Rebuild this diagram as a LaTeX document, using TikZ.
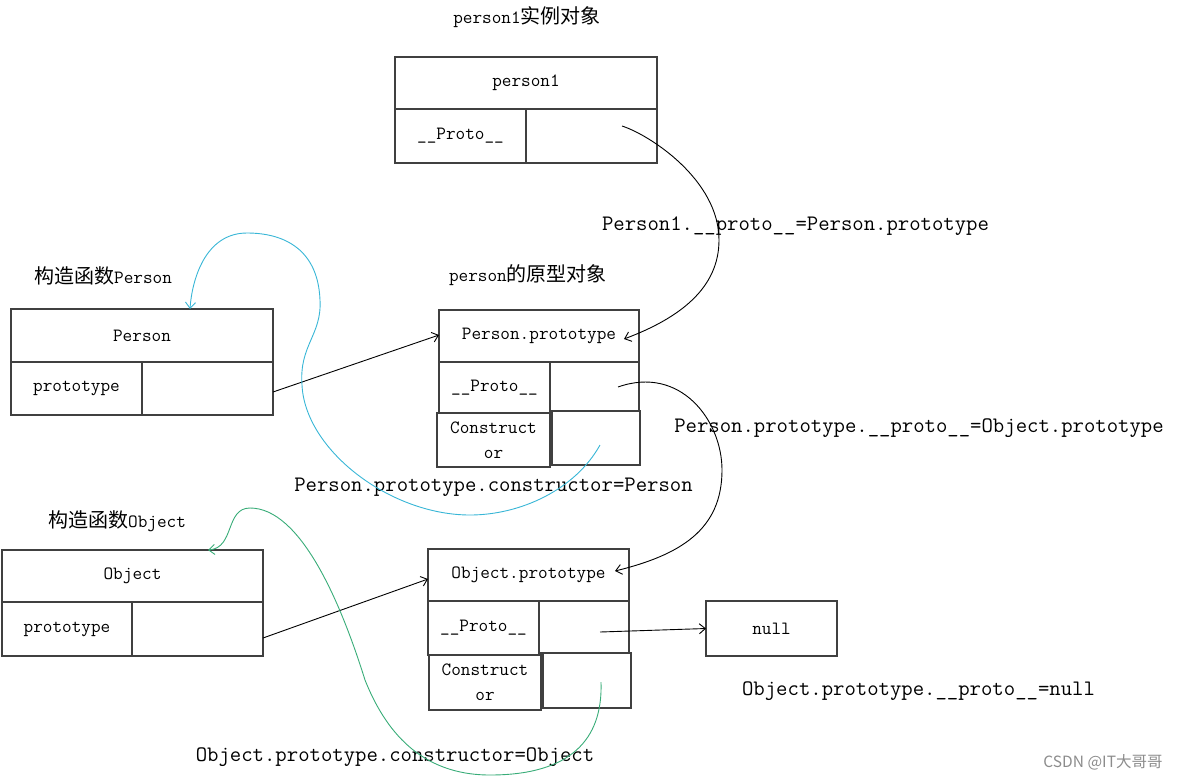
\documentclass[tikz,border=0pt]{standalone}
\usepackage{fontspec}
\newfontfamily\cjk[Scale=1.07]{Noto Sans CJK SC}
\newfontfamily\cjkwm{Noto Sans CJK SC}
\usetikzlibrary{arrows.meta}
\definecolor{cyanline}{RGB}{56,182,214}
\definecolor{greenline}{RGB}{56,172,120}
\begin{document}
\begin{tikzpicture}[x=1pt,y=-1pt,
  cell/.style={draw=black!75, line width=1.2pt, rectangle, inner sep=0pt, outer sep=0pt,
    font=\ttfamily\fontsize{18.7}{25}\selectfont, align=center},
  title/.style={font=\ttfamily\fontsize{18.7}{22}\selectfont, inner sep=0pt},
  lbl/.style={font=\ttfamily\fontsize{22.1}{26}\selectfont, inner sep=0pt},
  conn/.style={line width=0.9pt, -{Straight Barb[length=6pt,width=10pt]}},
]
\useasboundingbox (0,0) rectangle (1182,780);

% person1 instance
\node[cell, minimum width=262pt, minimum height=52pt] (p1h) at (526,83) {person1};
\node[cell, minimum width=131pt, minimum height=54pt] (p1L) at (460.5,136) {\_\_Proto\_\_};
\node[cell, minimum width=131pt, minimum height=54pt] (p1R) at (591.5,136) {};

% Person constructor
\node[cell, minimum width=262pt, minimum height=53pt] (ph) at (142,335.5) {Person};
\node[cell, minimum width=131pt, minimum height=53pt] (ppL) at (76.5,388.5) {prototype};
\node[cell, minimum width=131pt, minimum height=53pt] (ppR) at (207.5,388.5) {};

% Person.prototype
\node[cell, minimum width=200pt, minimum height=52pt] (pph) at (539,336) {Person.prototype};
\node[cell, minimum width=111pt, minimum height=51pt] (pproL) at (494.5,387.5) {\_\_Proto\_\_};
\node[cell, minimum width=89pt, minimum height=49pt] (pproR) at (594.5,386.5) {};
\node[cell, minimum width=113pt, minimum height=54pt] (pconL) at (493.5,440) {Construct\\or};
\node[cell, minimum width=88pt, minimum height=54pt] (pconR) at (596,438) {};

% Object constructor
\node[cell, minimum width=261pt, minimum height=52pt] (oh) at (132.5,576) {Object};
\node[cell, minimum width=130pt, minimum height=54pt] (opL) at (67,629) {prototype};
\node[cell, minimum width=131pt, minimum height=54pt] (opR) at (197.5,629) {};

% Object.prototype
\node[cell, minimum width=201pt, minimum height=52pt] (oph) at (528.5,575) {Object.prototype};
\node[cell, minimum width=111pt, minimum height=54pt] (oproL) at (483.5,628) {\_\_Proto\_\_};
\node[cell, minimum width=90pt, minimum height=52pt] (oproR) at (584,627) {};
\node[cell, minimum width=112pt, minimum height=55pt] (oconL) at (485,682.5) {Construct\\or};
\node[cell, minimum width=88pt, minimum height=55pt] (oconR) at (587,680.5) {};

% null
\node[cell, minimum width=131pt, minimum height=55pt] (null) at (771.5,628.5) {null};

% titles
\node[title] (t1) at (527,17) {person1{\cjk 实例对象}};
\node[title] (t2) at (103,276) {{\cjk 构造函数}Person};
\node[title] (t3) at (528,275) {person{\cjk 的原型对象}};
\node[title] (t4) at (117,521) {{\cjk 构造函数}Object};

% labels
\node[lbl] (l1) at (795.5,226) {Person1.\_\_proto\_\_=Person.prototype};
\node[lbl] (l2) at (919,428) {Person.prototype.\_\_proto\_\_=Object.prototype};
\node[lbl] (l3) at (493.5,487) {Person.prototype.constructor=Person};
\node[lbl] (l4) at (918.5,691) {Object.prototype.\_\_proto\_\_=null};
\node[lbl] (l5) at (395,757) {Object.prototype.constructor=Object};
\node[font=\cjkwm\fontsize{15.5}{17}\selectfont, text=black!45, inner sep=0pt] (wm) at (1103,762) {CSDN @IT大哥哥};

% straight connectors
\draw[conn] ([yshift=-3.5pt]ppR.east) -- ([yshift=1pt]pph.west);
\draw[conn] ([yshift=-9pt]opR.east) -- ([yshift=-4pt]oph.west);
\coordinate (s3) at (600,632);
\draw[conn] (s3) -- (null.west);

% curved connectors
\coordinate (s1) at (622,126);
\coordinate (e1) at (624,339);
\draw[conn] (s1) .. controls (650,135) and (719,180) .. (719,240)
  .. controls (719,288) and (680,318) .. (e1);

\coordinate (s2) at (618,387);
\coordinate (e2) at (615,571);
\draw[conn] (s2) .. controls (680,365) and (722,420) .. (722,470)
  .. controls (722,530) and (680,555) .. (e2);

\coordinate (s4) at (600,445);
\draw[conn, cyanline] (s4) .. controls (575,490) and (520,515) .. (470,515)
  .. controls (390,515) and (305,450) .. (302,385)
  .. controls (299,345) and (322,335) .. (320,300)
  .. controls (318,250) and (285,233) .. (247,233)
  .. controls (205,233) and (192,280) .. ([xshift=48pt]ph.north);

\coordinate (s5) at (601,682);
\draw[conn, greenline] (s5) .. controls (603,740) and (570,775) .. (490,775)
  .. controls (420,775) and (385,730) .. (365,680)
  .. controls (340,600) and (300,508) .. (250,508)
  .. controls (225,508) and (235,548) .. ([xshift=75.5pt]oh.north);
\end{tikzpicture}
\end{document}
